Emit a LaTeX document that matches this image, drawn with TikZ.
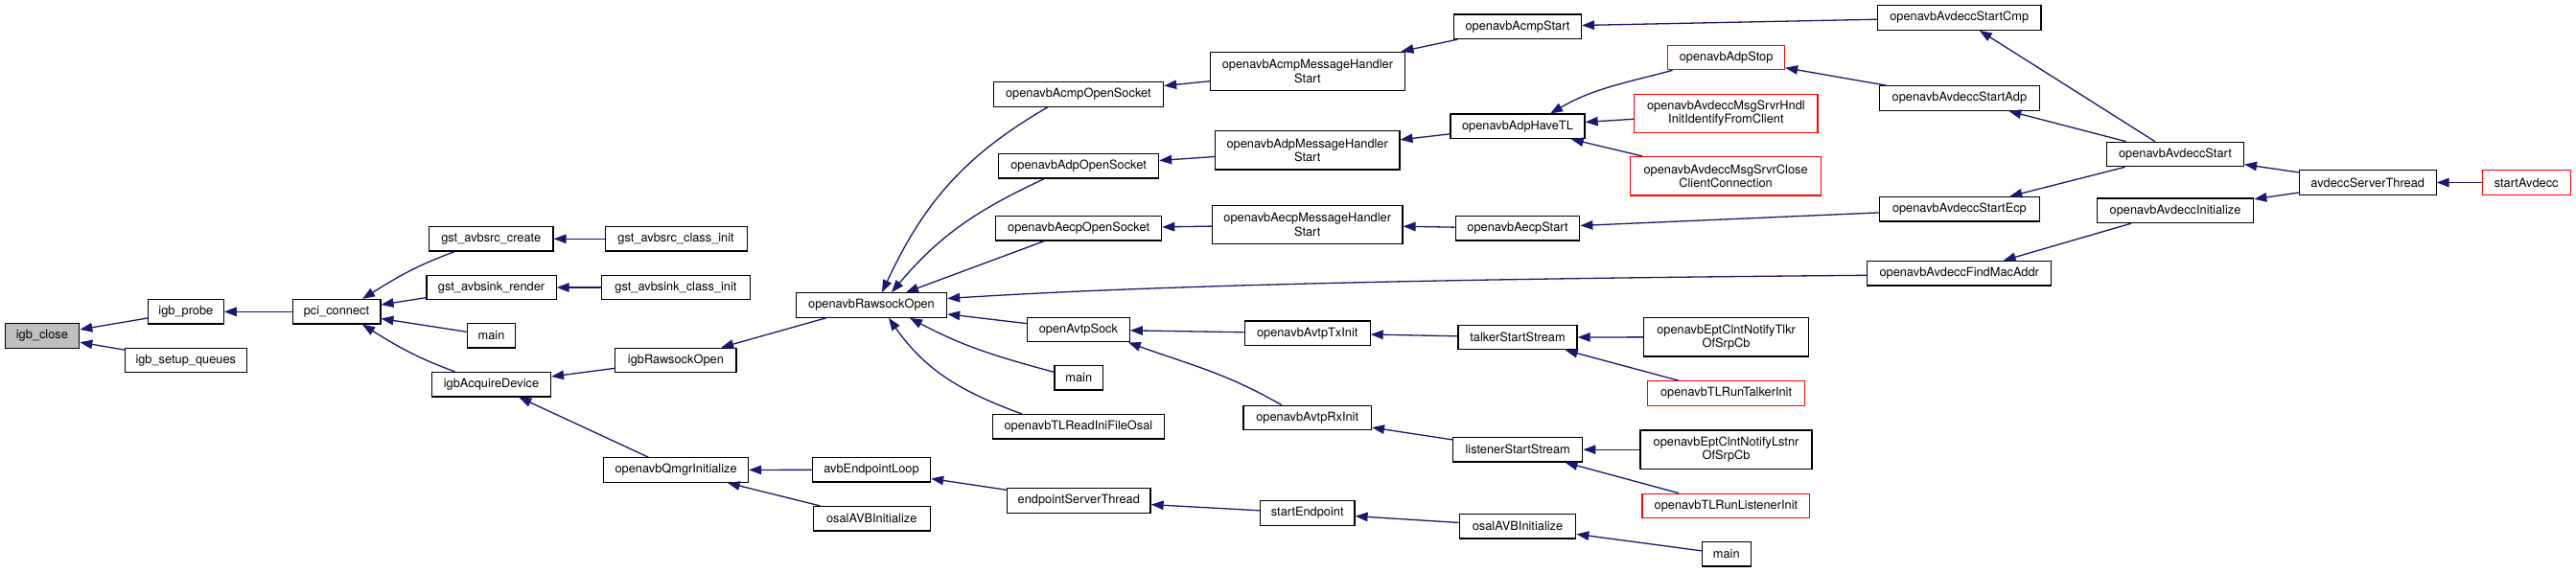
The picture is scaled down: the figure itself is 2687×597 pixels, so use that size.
\documentclass[tikz,border=0pt]{standalone}
\usepackage{fontspec}
\setmainfont{TeX Gyre Heros}
\usetikzlibrary{arrows.meta}
\definecolor{mblue}{HTML}{191970}
\definecolor{rootgrey}{HTML}{BFBFBF}
\newcommand\nfont{\fontsize{12.8pt}{14.3pt}\selectfont}
\tikzset{
  nd/.style={draw=black, line width=1.2pt, fill=white, minimum height=25.5pt, inner sep=0pt, font=\nfont, align=center},
  ndtwo/.style={nd, minimum height=40.4pt},
  rednd/.style={draw=red},
  edge/.style={draw=mblue, line width=1.3pt, -{Triangle[length=13pt,width=9.5pt]}}
}
\begin{document}
\begin{tikzpicture}[x=1pt,y=-1pt]
\useasboundingbox (0,0) rectangle (2687,597);
% column 0-2
\node[nd, fill=rootgrey, minimum width=77.6pt] (igbclose) at (43.9,350.5) {igb\_close};
\node[nd, minimum width=78.6pt] (igbprobe) at (193.9,325.3) {igb\_probe};
\node[nd, minimum width=126.8pt] (igbsetup) at (193.8,376) {igb\_setup\_queues};
\node[nd, minimum width=91.8pt] (pci) at (351,325.3) {pci\_connect};
% column 3
\node[nd, minimum width=129.6pt] (gsrc) at (512.2,249.3) {gst\_avbsrc\_create};
\node[nd, minimum width=135.2pt] (gsink) at (512.5,300) {gst\_avbsink\_render};
\node[nd, minimum width=50.6pt] (mainA) at (512.5,350.3) {main};
\node[nd, minimum width=124pt] (igbacq) at (512.5,401.2) {igbAcquireDevice};
% column 4
\node[nd, minimum width=148pt] (gsrcinit) at (705.1,249.3) {gst\_avbsrc\_class\_init};
\node[nd, minimum width=154.5pt] (gsinkinit) at (704.9,300) {gst\_avbsink\_class\_init};
\node[nd, minimum width=126.1pt] (igbraw) at (704.9,376) {igbRawsockOpen};
\node[nd, minimum width=151pt] (qmgr) at (705.1,490.5) {openavbQmgrInitialize};
% column 5
\node[nd, minimum width=157.2pt] (rawsock) at (909,318.5) {openavbRawsockOpen};
\node[nd, minimum width=123.2pt] (avbloop) at (909,490.3) {avbEndpointLoop};
\node[nd, minimum width=121.9pt] (osalA) at (909.2,541.3) {osalAVBInitialize};
% column 6
\node[nd, minimum width=177.3pt] (acmpsock) at (1124.9,98.5) {openavbAcmpOpenSocket};
\node[nd, minimum width=167pt] (adpsock) at (1125.1,173.3) {openavbAdpOpenSocket};
\node[nd, minimum width=173.2pt] (aecpsock) at (1125.1,238.3) {openavbAecpOpenSocket};
\node[nd, minimum width=106.7pt] (avtpsock) at (1124.9,344) {openAvtpSock};
\node[nd, minimum width=50.5pt] (mainB) at (1125.3,394.3) {main};
\node[nd, minimum width=179.1pt] (tlread) at (1124.9,445.3) {openavbTLReadIniFileOsal};
\node[nd, minimum width=149.5pt] (endpthr) at (1125.3,522.5) {endpointServerThread};
% column 7
\node[ndtwo, minimum width=202.6pt] (acmpmh) at (1363.9,74.5) {openavbAcmpMessageHandler\\Start};
\node[ndtwo, minimum width=192.4pt] (adpmh) at (1363.7,156.8) {openavbAdpMessageHandler\\Start};
\node[ndtwo, minimum width=198.6pt] (aecpmh) at (1363.7,234.5) {openavbAecpMessageHandler\\Start};
\node[nd, minimum width=130.8pt] (txinit) at (1363.7,347.8) {openavbAvtpTxInit};
\node[nd, minimum width=133.4pt] (rxinit) at (1363.7,436) {openavbAvtpRxInit};
\node[nd, minimum width=98.6pt] (startendp) at (1363.7,535.5) {startEndpoint};
% column 8
\node[nd, minimum width=133.1pt] (acmpstart) at (1583,27.8) {openavbAcmpStart};
\node[nd, minimum width=140.1pt] (adphavetl) at (1583,131.8) {openavbAdpHaveTL};
\node[nd, minimum width=129.5pt] (aecpstart) at (1583,238.3) {openavbAecpStart};
\node[nd, minimum width=124.1pt] (talker) at (1583,352) {talkerStartStream};
\node[nd, minimum width=135.3pt] (listener) at (1583.2,469.2) {listenerStartStream};
\node[nd, minimum width=121.5pt] (osalB) at (1583,549.3) {osalAVBInitialize};
% column 9
\node[nd, rednd, minimum width=121.9pt] (adpstop) at (1800.6,60) {openavbAdpStop};
\node[ndtwo, rednd, minimum width=191.1pt] (msghndl) at (1800.4,118.3) {openavbAvdeccMsgSrvrHndl\\InitIdentifyFromClient};
\node[ndtwo, rednd, minimum width=198.6pt] (msgclose) at (1800.1,183.8) {openavbAvdeccMsgSrvrClose\\ClientConnection};
\node[ndtwo, minimum width=171.9pt] (tlkrsrp) at (1800.6,351.8) {openavbEptClntNotifyTlkr\\OfSrpCb};
\node[nd, rednd, minimum width=163.9pt] (runtalker) at (1800.6,410.5) {openavbTLRunTalkerInit};
\node[ndtwo, minimum width=179pt] (lstnrsrp) at (1800.5,469.2) {openavbEptClntNotifyLstnr\\OfSrpCb};
\node[nd, rednd, minimum width=174.9pt] (runlistener) at (1800.4,528) {openavbTLRunListenerInit};
\node[nd, minimum width=50.9pt] (mainC) at (1800.8,578.3) {main};
% column 10
\node[nd, minimum width=170.5pt] (startcmp) at (2043.7,18.5) {openavbAvdeccStartCmp};
\node[nd, minimum width=166.5pt] (startadp) at (2043.9,102.5) {openavbAvdeccStartAdp};
\node[nd, minimum width=166.5pt] (startecp) at (2043.9,218.3) {openavbAvdeccStartEcp};
\node[nd, minimum width=191.9pt] (findmac) at (2043.7,285.3) {openavbAvdeccFindMacAddr};
% column 11-13
\node[nd, minimum width=143.1pt] (avdeccstart) at (2268.9,161) {openavbAvdeccStart};
\node[nd, minimum width=163.4pt] (avdeccinit) at (2269,219.8) {openavbAvdeccInitialize};
\node[nd, minimum width=142.8pt] (avdeccsrv) at (2469.7,190.5) {avdeccServerThread};
\node[nd, rednd, minimum width=92.1pt] (startavdecc) at (2635.2,190.5) {startAvdecc};

% edges (caller -> callee, arrowhead at callee)
\draw[edge] (igbprobe) -- (igbclose);
\draw[edge] (igbsetup) -- (igbclose);
\draw[edge] (pci) -- (igbprobe);
\draw[edge] ([xshift=-38pt]gsrc.south) to[out=200,in=32] ([xshift=27pt]pci.north);
\draw[edge] (gsink) -- (pci);
\draw[edge] (mainA) -- (pci);
\draw[edge] ([xshift=-38pt]igbacq.north) to[out=160,in=-32] ([xshift=27pt]pci.south);
\draw[edge] (gsrcinit) -- (gsrc);
\draw[edge] (gsinkinit) -- (gsink);
\draw[edge] (igbraw) -- (igbacq);
\draw[edge] (qmgr) -- (igbacq);
\draw[edge] (rawsock) -- (igbraw);
\draw[edge] (avbloop) -- (qmgr);
\draw[edge] (osalA) -- (qmgr);
\draw[edge] (endpthr) -- (avbloop);
\draw[edge] (startendp) -- (endpthr);
\draw[edge] (osalB) -- (startendp);
\draw[edge] (mainC) -- (osalB);
\draw[edge] ([xshift=-32pt]acmpsock.south) to[out=210,in=65] ([xshift=11pt]rawsock.north);
\draw[edge] ([xshift=-36pt]adpsock.south) to[out=205,in=50] ([xshift=21pt]rawsock.north);
\draw[edge] (aecpsock) -- (rawsock);
\draw[edge] ([yshift=-2pt]findmac.west) .. controls (1500,291) and (1200,298) .. ([yshift=7pt]rawsock.east);
\draw[edge] (avtpsock) -- (rawsock);
\draw[edge] ([yshift=6pt]mainB.west) to[out=165,in=-28] ([xshift=40pt]rawsock.south);
\draw[edge] ([xshift=-59pt]tlread.north) to[out=160,in=-55] ([xshift=18pt]rawsock.south);
\draw[edge] (txinit) -- (avtpsock);
\draw[edge] ([xshift=-27pt]rxinit.north) to[out=150,in=-20] ([xshift=-2pt]avtpsock.south east);
\draw[edge] (talker) -- (txinit);
\draw[edge] (listener) -- (rxinit);
\draw[edge] (tlkrsrp) -- (talker);
\draw[edge] (runtalker) -- (talker);
\draw[edge] (lstnrsrp) -- (listener);
\draw[edge] (runlistener) -- (listener);
\draw[edge] (acmpmh) -- (acmpsock);
\draw[edge] (adpmh) -- (adpsock);
\draw[edge] (aecpmh) -- (aecpsock);
\draw[edge] (acmpstart) -- (acmpmh);
\draw[edge] (adphavetl) -- (adpmh);
\draw[edge] (aecpstart) -- (aecpmh);
\draw[edge] (startcmp) -- (acmpstart);
\draw[edge] ([xshift=-56pt]adpstop.south) to[out=195,in=30] ([xshift=34pt]adphavetl.north);
\draw[edge] (msghndl) -- (adphavetl);
\draw[edge] (msgclose) -- (adphavetl);
\draw[edge] (startadp) -- (adpstop);
\draw[edge] (startecp) -- (aecpstart);
\draw[edge] (avdeccstart) -- (startcmp);
\draw[edge] (avdeccstart) -- (startadp);
\draw[edge] (avdeccstart) -- (startecp);
\draw[edge] (avdeccinit) -- (findmac);
\draw[edge] (avdeccsrv) -- (avdeccstart);
\draw[edge] (avdeccsrv) -- (avdeccinit);
\draw[edge] (startavdecc) -- (avdeccsrv);
\end{tikzpicture}
\end{document}
